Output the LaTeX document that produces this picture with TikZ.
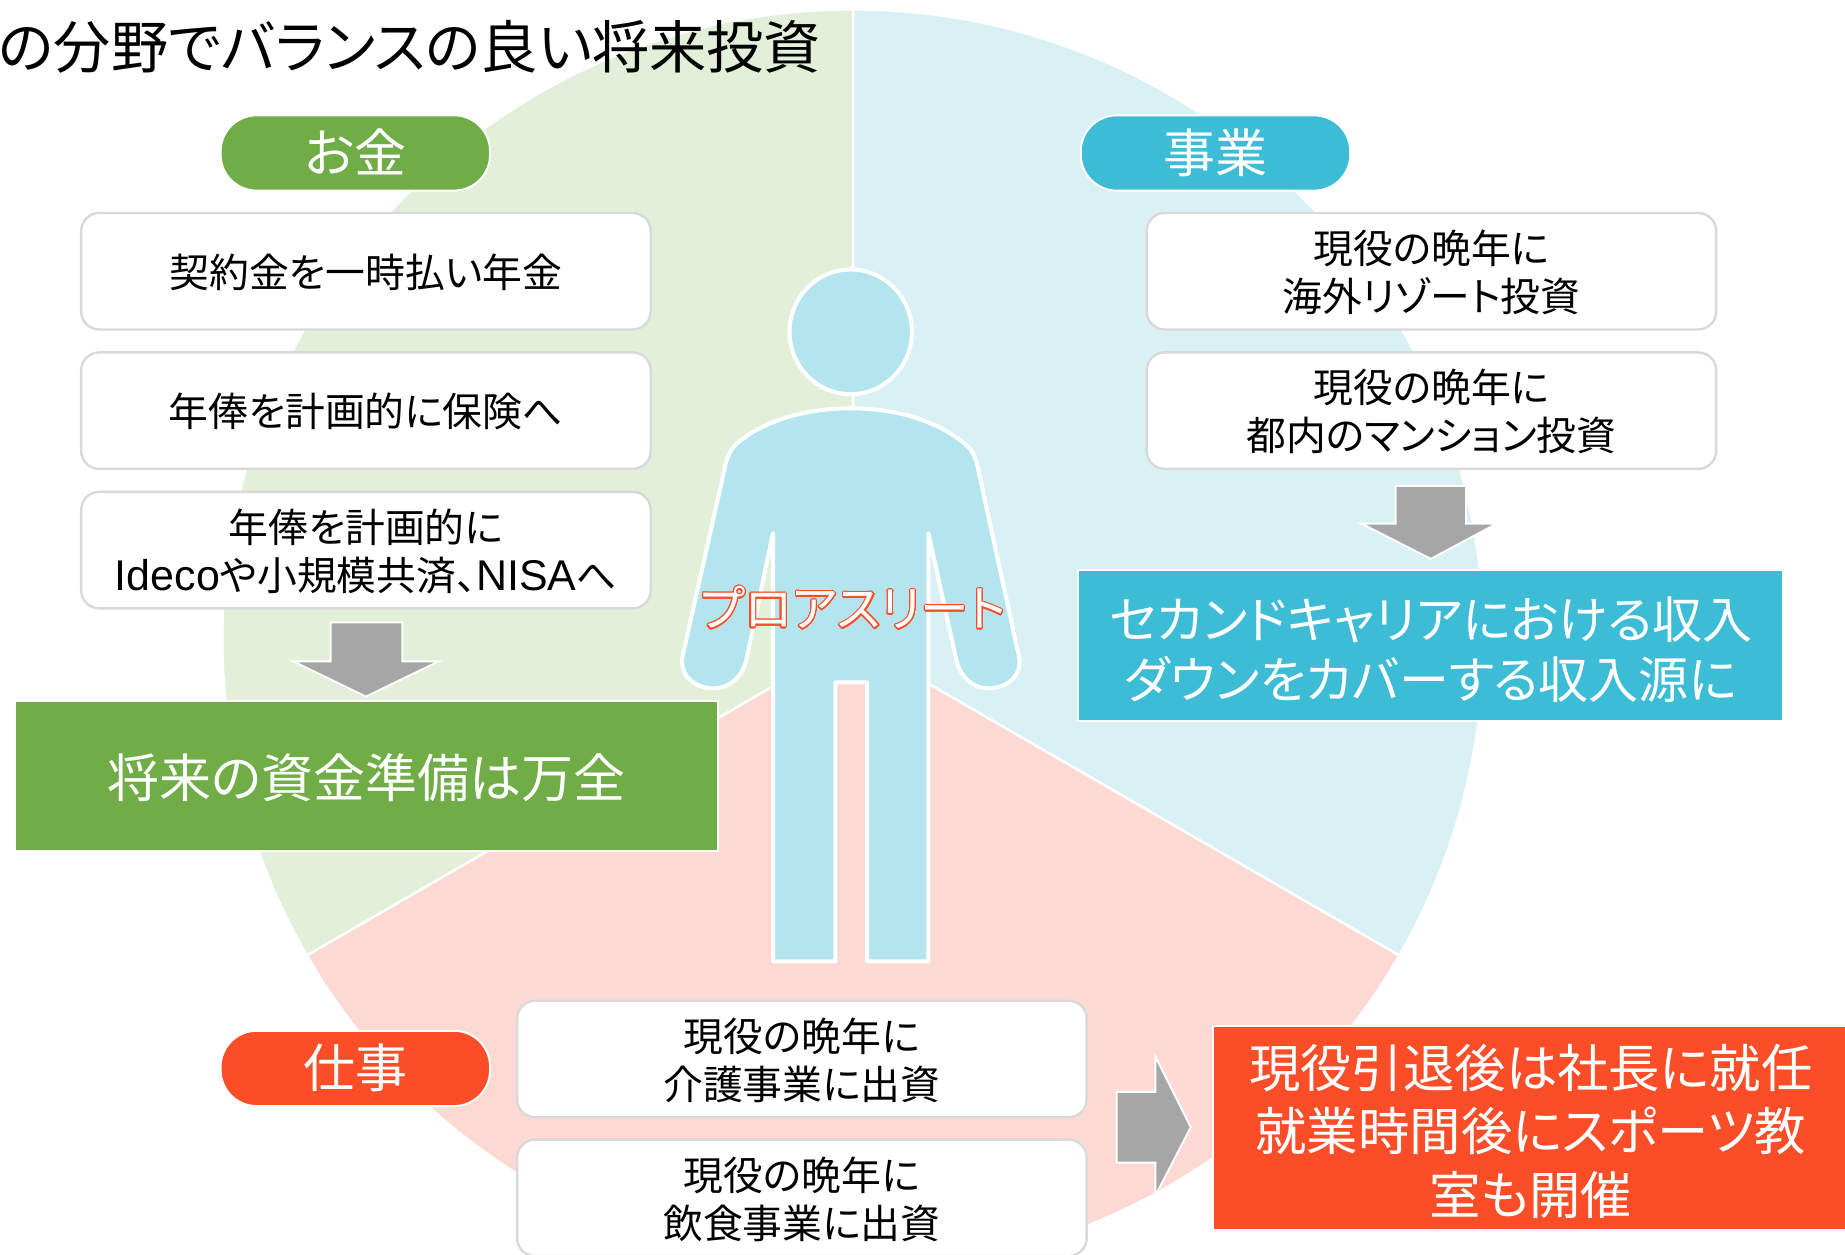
\documentclass[tikz,border=0pt]{standalone}
\usepackage{fontspec}
\usepackage{contour}
\setmainfont{Noto Sans CJK JP}[RawFeature={+palt}]
\newfontfamily\latinfont[Scale=1.08]{Liberation Sans}
\newlength\unitpx
\setlength\unitpx{0.58835pt}
\definecolor{moneygreen}{HTML}{70AD47}
\definecolor{bizblue}{HTML}{3DBCD6}
\definecolor{workred}{HTML}{FA4D28}
\definecolor{palegreen}{HTML}{E2EFD9}
\definecolor{paleblue}{HTML}{D9F1F5}
\definecolor{palered}{HTML}{FDD9D3}
\definecolor{bodyblue}{HTML}{B4E5EF}
\definecolor{boxgray}{HTML}{D9D9D9}
\definecolor{arrowgray}{HTML}{A6A6A6}
\contourlength{0.55pt}
\contournumber{24}
\newcommand{\lowered}[2][3.3pt]{\raisebox{-#1}[\height][\depth]{\begin{tabular}{@{}c@{}}#2\end{tabular}}}

\begin{document}
\begin{tikzpicture}[x=\unitpx,y=-\unitpx]
		\tikzstyle{sector}=[draw=white,line width=1.2pt]
		\tikzstyle{pill}=[rectangle,rounded corners=18pt,draw=white,line width=1pt,text=white,
							minimum width=229\unitpx,minimum height=64\unitpx,
							font=\fontsize{26}{30}\selectfont]
		\tikzstyle{plan}=[rectangle,rounded corners=9pt,draw=boxgray,fill=white,line width=1.2pt,
							minimum width=484\unitpx,minimum height=99\unitpx,
							font=\fontsize{19.9}{24}\selectfont]
		\tikzstyle{result}=[rectangle,draw=white,line width=1pt,text=white,
							font=\fontsize{26}{30}\selectfont]
		\tikzstyle{downarrow}=[fill=arrowgray,draw=white,line width=1pt]
		\tikzstyle{figure}=[fill=bodyblue,draw=white,line width=2pt,line join=round]

		\clip (0,0) rectangle (1568,1066);

		% sectors
		\fill[white] (0,0) rectangle (1568,1066);
		\filldraw[sector,fill=palegreen] (725,544) -- (725,8) arc[start angle=-90,end angle=-210,radius=536] -- cycle;
		\filldraw[sector,fill=paleblue] (725,544) -- (725,8) arc[start angle=-90,end angle=30,radius=536] -- cycle;
		\filldraw[sector,fill=palered] (725,544) -- (1189.2,812) arc[start angle=30,end angle=150,radius=536] -- cycle;

		% person
		\filldraw[figure] (723,282) ellipse [x radius=52,y radius=53];
		\filldraw[figure] (723,347)
			.. controls (680,347) and (645,360) .. (625,378)
			.. controls (621,382) and (619,387) .. (617,393)
			-- (580,558)
			.. controls (577,575) and (592,585) .. (606,585)
			.. controls (620,585) and (630,576) .. (634,562)
			-- (657,453) -- (657,817) -- (710,817) -- (710,580) -- (737,580) -- (737,817) -- (789,817) -- (789,453)
			-- (813,562)
			.. controls (817,576) and (827,585) .. (840,585)
			.. controls (855,585) and (869,575) .. (866,558)
			-- (830,393)
			.. controls (828,387) and (826,382) .. (821,378)
			.. controls (800,360) and (766,347) .. (723,347) -- cycle;
		\node (athlete) at (725,517) {\fontsize{24.3}{28}\selectfont\color{white}\contour{workred}{プロアスリート}};

		% title
		\node [anchor=east,inner sep=0pt,font=\fontsize{28.6}{32}\selectfont] (title) at (698,40) {の分野でバランスの良い将来投資};

		% pills
		\node[pill,fill=moneygreen] (money) at (302,130) {\lowered[3.2pt]{お金}};
		\node[pill,fill=bizblue] (business) at (1033,130) {\lowered[3.2pt]{事業}};
		\node[pill,fill=workred] (work) at (302,908) {\lowered[3.2pt]{仕事}};

		% plans
		\foreach \name/\x/\y/\txt in {
			plana/311/230.5/{契約金を一時払い年金},
			planb/311/349/{年俸を計画的に保険へ},
			planc/311/467.5/{年俸を計画的に\\{\latinfont Ideco}や小規模共済、{\latinfont NISA}へ},
			pland/1216.5/230.5/{現役の晩年に\\海外リゾート投資},
			plane/1216.5/349/{現役の晩年に\\都内のマンション投資},
			planf/681.5/900/{現役の晩年に\\介護事業に出資},
			plang/681.5/1018/{現役の晩年に\\飲食事業に出資}}
			\node[plan] (\name) at (\x,\y) {\lowered{\txt}};

		% arrows
		\filldraw[downarrow] (281,529) -- (342,529) -- (342,562) -- (373,562) -- (311,592) -- (249,562) -- (281,562) -- cycle;
		\filldraw[downarrow] (1186,413) -- (1246,413) -- (1246,445) -- (1272,445) -- (1216,475) -- (1157,445) -- (1186,445) -- cycle;
		\filldraw[downarrow] (949,928) -- (982,928) -- (982,898) -- (1012,958) -- (982,1016) -- (982,988) -- (949,988) -- cycle;

		% results
		\node[result,fill=moneygreen,minimum width=598\unitpx,minimum height=128\unitpx] (fund) at (311.5,659.5) {\lowered[4.3pt]{将来の資金準備は万全}};
		\node[result,fill=bizblue,minimum width=599\unitpx,minimum height=128\unitpx,
			font=\fontsize{25}{30}\selectfont] (income) at (1216,548.5) {\lowered[5.5pt]{セカンドキャリアにおける収入\\ダウンをカバーする収入源に}};
		\node[result,fill=workred,minimum width=541\unitpx,minimum height=172\unitpx,
			font=\fontsize{25.7}{31.7}\selectfont] (retire) at (1301,958.5) {\lowered[5.1pt]{現役引退後は社長に就任\\就業時間後にスポーツ教\\室も開催}};
\end{tikzpicture}
\end{document}
